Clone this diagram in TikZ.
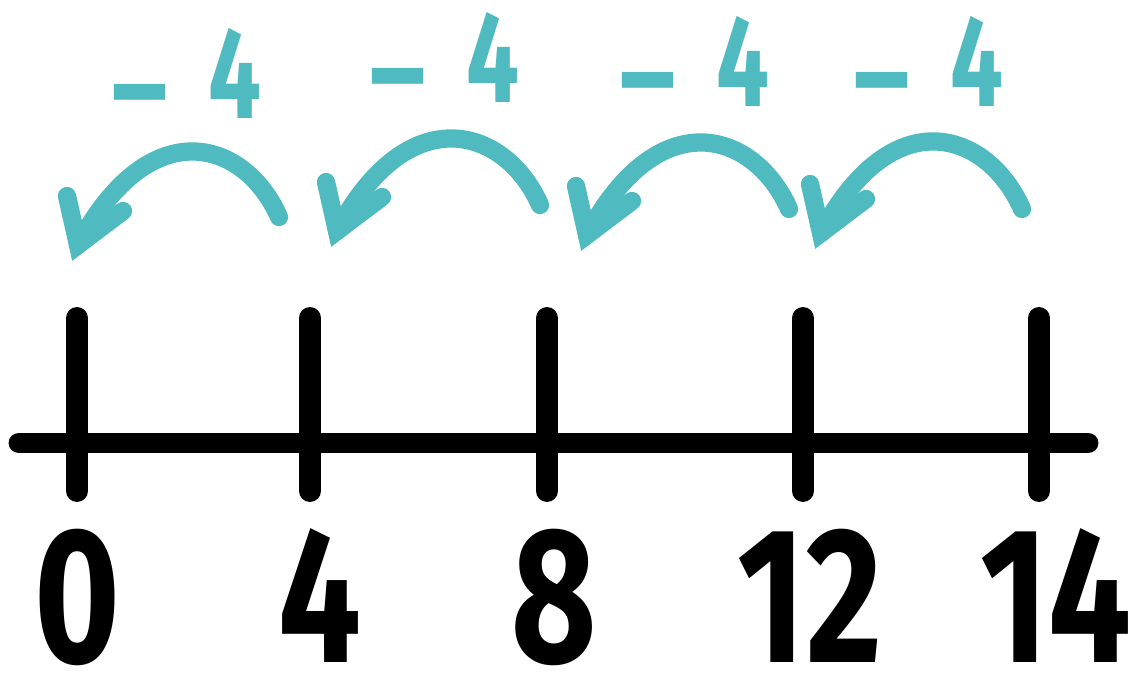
\documentclass[tikz,border=0pt]{standalone}
\usepackage{fontspec}
\setmainfont{Fira Sans}
\newfontfamily\nlnum[FakeStretch=0.76]{Fira Sans}
\newfontfamily\nljmp[FakeStretch=0.72]{Fira Sans}
\usetikzlibrary{arrows.meta,positioning}
\definecolor{nlink}{RGB}{0,0,0}
\definecolor{nljump}{RGB}{79,186,192}
\tikzset{
  axisline/.style={draw=nlink, line width=11.9pt, line cap=round},
  tickline/.style={draw=nlink, line width=12.5pt, line cap=round},
  numlbl/.style={
    anchor=base, inner sep=0pt, text=nlink,
    font=\nlnum\bfseries\fontsize{110}{110}\selectfont
  },
  jump/.style={draw=nljump, line width=10.4pt, line cap=round},
  jumphead/.style={jump, line join=miter},
  jumplbl/.style={
    anchor=base, inner sep=0pt, text=nljump,
    font=\nljmp\bfseries\fontsize{74}{74}\selectfont
  }
}

\begin{document}
\begin{tikzpicture}[x=0.02cm, y=-0.02cm]
  \useasboundingbox (0,0) rectangle (1137,675);
  % number line and ticks
  \coordinate (ax0) at (19,443);
  \coordinate (ax1) at (1088,443);
  \draw[axisline] (ax0) -- (ax1);
  \foreach \lab/\px in {0/77,4/310,8/547,12/803,14/1039}{
    \coordinate (top\lab) at (\px,318);
    \coordinate (bot\lab) at (\px,491);
    \draw[tickline] (top\lab) -- (bot\lab);
  }
  \foreach \lab/\px in {0/77,4/320,8/554,12/810,14/1056}
    \node[numlbl] (num\lab) at (\px,663) {\lab};
  % jumps back by four
  \foreach \jn/\rx/\ry/\vx/\vy in {1/279/217/78/245, 2/540/205/337/231,
      3/789/209/587/235, 4/1022/209/821/233}{
    \coordinate (from\jn) at (\rx,\ry);
    \coordinate (to\jn) at (\vx,\vy);
    \draw[jump] (from\jn) .. controls +(-34,-77) and +(72,-135) .. (to\jn);
    \draw[jumphead] (to\jn) ++(-11,-49) -- (to\jn) -- ++(45,-34);
  }
  \foreach \jn/\px/\py in {1/185/119, 2/443/103, 3/693/107, 4/927/107}
    \node[jumplbl] (step\jn) at (\px,\py)
      {\raisebox{-0.13em}{\scalebox{1.3}[1]{−}}\hspace{0.28em}4};
\end{tikzpicture}
\end{document}
